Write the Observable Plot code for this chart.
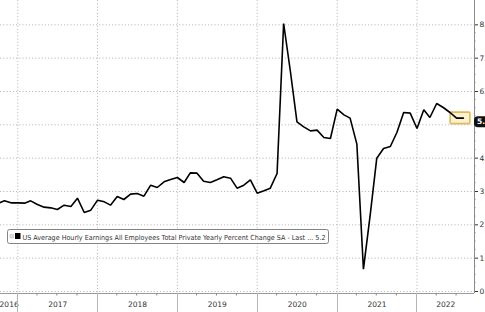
<!DOCTYPE html>
<html>
<head>
<meta charset="utf-8">
<script src="https://cdn.jsdelivr.net/npm/d3@7"></script>
<script src="https://cdn.jsdelivr.net/npm/@observablehq/plot@0.6"></script>
<style>
  html, body { margin: 0; padding: 0; background: #fff; overflow: hidden; }
  #chart svg { display: block; }
</style>
</head>
<body>
<div id="chart"></div>
<script>
// Monthly observations (month of the reading)
const months = [
  "2016-09","2016-10","2016-11","2016-12",
  "2017-01","2017-02","2017-03","2017-04","2017-05","2017-06","2017-07","2017-08","2017-09","2017-10","2017-11","2017-12",
  "2018-01","2018-02","2018-03","2018-04","2018-05","2018-06","2018-07","2018-08","2018-09","2018-10","2018-11","2018-12",
  "2019-01","2019-02","2019-03","2019-04","2019-05","2019-06","2019-07","2019-08","2019-09","2019-10","2019-11","2019-12",
  "2020-01","2020-02","2020-03","2020-04","2020-05","2020-06","2020-07","2020-08","2020-09","2020-10","2020-11","2020-12",
  "2021-01","2021-02","2021-03","2021-04","2021-05","2021-06","2021-07","2021-08","2021-09","2021-10","2021-11","2021-12",
  "2022-01","2022-02","2022-03","2022-04","2022-05","2022-06","2022-07"
];
const values = [
  2.64, 2.72, 2.66, 2.66,
  2.65, 2.72, 2.61, 2.53, 2.51, 2.46, 2.59, 2.55, 2.80, 2.37, 2.44, 2.74,
  2.69, 2.59, 2.85, 2.76, 2.92, 2.94, 2.86, 3.19, 3.12, 3.29, 3.36, 3.42,
  3.27, 3.56, 3.55, 3.31, 3.27, 3.35, 3.44, 3.40, 3.10, 3.19, 3.35, 2.95,
  3.02, 3.10, 3.54, 8.04, 6.60, 5.09, 4.94, 4.82, 4.84, 4.62, 4.59, 5.47,
  5.30, 5.20, 4.42, 0.67, 2.30, 4.00, 4.29, 4.35, 4.77, 5.37, 5.35, 4.89,
  5.45, 5.22, 5.64, 5.52, 5.37, 5.20, 5.20
];
const yearLabels = ["2016","2017","2018","2019","2020","2021","2022"];
const yTicks = [0, 1, 2, 3, 4, 5, 6, 7, 8];
const seriesName = "US Average Hourly Earnings All Employees Total Private Yearly Percent Change SA - Last ...";

// points drawn at month end
const parseMonth = d3.utcParse("%Y-%m");
const data = months.map((m, i) => ({date: d3.utcMonth.offset(parseMonth(m), 1), value: values[i]}));

const xMin = new Date(Date.UTC(2016, 9, 14));
const xMax = new Date(Date.UTC(2022, 8, 21));
const yMin = -0.06, yMax = 8.73;

const yearStarts = yearLabels.slice(1).map(y => new Date(Date.UTC(+y, 0, 1)));
const years = yearLabels.map((y, i) => {
  const a = Math.max(Date.UTC(+y, 0, 1), +xMin);
  const b = Math.min(Date.UTC(+y + 1, 0, 1), +xMax);
  return {mid: new Date((a + b) / 2), label: y};
});
const quarterTicks = d3.utcMonth.every(3).range(xMin, xMax).filter(d => d.getUTCMonth() !== 0);
const minorY = d3.range(0, 8.01, 0.25).filter(v => v % 1 !== 0);

const gridColor = "#bdbdbd";
const FONT = "DejaVu Sans, Verdana, sans-serif";

const chart = Plot.plot({
  width: 485,
  height: 312,
  marginLeft: 0,
  marginRight: 11,
  marginTop: 0,
  marginBottom: 19,
  x: {type: "utc", domain: [xMin, xMax], axis: null},
  y: {domain: [yMin, yMax], axis: "right", ticks: yTicks, tickSize: 3, tickPadding: 2,
      tickFormat: d => d.toFixed(1), label: null},
  style: {fontFamily: FONT, fontSize: "7.5px", color: "#333", background: "white"},
  marks: [
    Plot.ruleY(yTicks, {stroke: gridColor, strokeDasharray: "1.2,2"}),
    Plot.ruleX(yearStarts, {stroke: gridColor, strokeDasharray: "1.2,2"}),
    Plot.ruleX([xMax], {stroke: "#8a8a8a", strokeWidth: 1}),
    Plot.ruleY([yMin], {stroke: "#9a9a9a", strokeWidth: 1}),
    Plot.text(years, {x: "mid", text: "label", frameAnchor: "bottom", dy: 13, fill: "#333"}),
    Plot.line(data, {x: "date", y: "value", stroke: "#000", strokeWidth: 1.6, strokeLinejoin: "miter"})
  ]
});

document.getElementById("chart").appendChild(chart);

// Overlays positioned through the chart's own scales
const sx = chart.scale("x"), sy = chart.scale("y");
const svg = d3.select(chart);
const X = d => sx.apply(d), Y = v => sy.apply(v);
const axisX = X(xMax), axisY = Y(yMin);

// year separators below the axis and quarterly minor ticks
const deco = svg.append("g").attr("stroke-width", 1);
deco.selectAll("line.sep").data(yearStarts).join("line")
  .attr("x1", d => Math.round(X(d)) + 0.5).attr("x2", d => Math.round(X(d)) + 0.5)
  .attr("y1", axisY).attr("y2", 312).attr("stroke", "#b5b5b5");
deco.selectAll("line.q").data(quarterTicks).join("line")
  .attr("x1", d => X(d)).attr("x2", d => X(d))
  .attr("y1", axisY).attr("y2", axisY + 2.5).attr("stroke", "#888");
deco.selectAll("line.my").data(minorY).join("line")
  .attr("x1", axisX).attr("x2", axisX + 1.5)
  .attr("y1", d => Y(d)).attr("y2", d => Y(d)).attr("stroke", "#888");

// highlight box around the last readings (drawn beneath the line)
const last = data[data.length - 1];
const prev = data[data.length - 2];
const lx = X(last.date), ly = Y(last.value), px = X(prev.date);
const lineNode = svg.select("g[aria-label=line]").node();
const box = svg.insert("rect", lineNode ? () => lineNode : null)
  .attr("x", px - 6).attr("y", ly - 5.5)
  .attr("width", lx - px + 13).attr("height", 11.5)
  .attr("rx", 1)
  .attr("fill", "#fbf1cf").attr("stroke", "#dcbc5a").attr("stroke-width", 1.6);
if (!lineNode) box.lower();

// last value tag on the right axis
const tag = svg.append("g").attr("text-anchor", "start");
tag.append("rect")
  .attr("x", axisX).attr("y", ly - 1.5)
  .attr("width", 20).attr("height", 11).attr("rx", 4)
  .attr("fill", "#111");
tag.append("text")
  .attr("x", axisX + 3).attr("y", ly + 6.8)
  .attr("text-anchor", "start")
  .attr("fill", "#fff").attr("font-size", 7.5).attr("font-weight", "bold")
  .attr("font-family", FONT)
  .text(last.value.toFixed(1));

// in-chart legend
const leg = svg.append("g").attr("text-anchor", "start");
leg.append("rect")
  .attr("x", 7.5).attr("y", 229.5).attr("width", 321).attr("height", 14)
  .attr("rx", 2).attr("fill", "#fff").attr("stroke", "#777").attr("stroke-width", 0.9);
leg.append("rect").attr("x", 10).attr("y", 234.5).attr("width", 3.5).attr("height", 3.5)
  .attr("fill", "#ddd").attr("stroke", "#bbb").attr("stroke-width", 0.5);
leg.append("rect").attr("x", 15).attr("y", 233).attr("width", 5.5).attr("height", 6).attr("fill", "#000");
leg.append("text")
  .attr("x", 22.5).attr("y", 239.5)
  .attr("text-anchor", "start")
  .attr("font-size", 7).attr("fill", "#333")
  .attr("font-family", FONT)
  .attr("textLength", 303).attr("lengthAdjust", "spacingAndGlyphs")
  .text(seriesName + " " + last.value.toFixed(1));
</script>
</body>
</html>
